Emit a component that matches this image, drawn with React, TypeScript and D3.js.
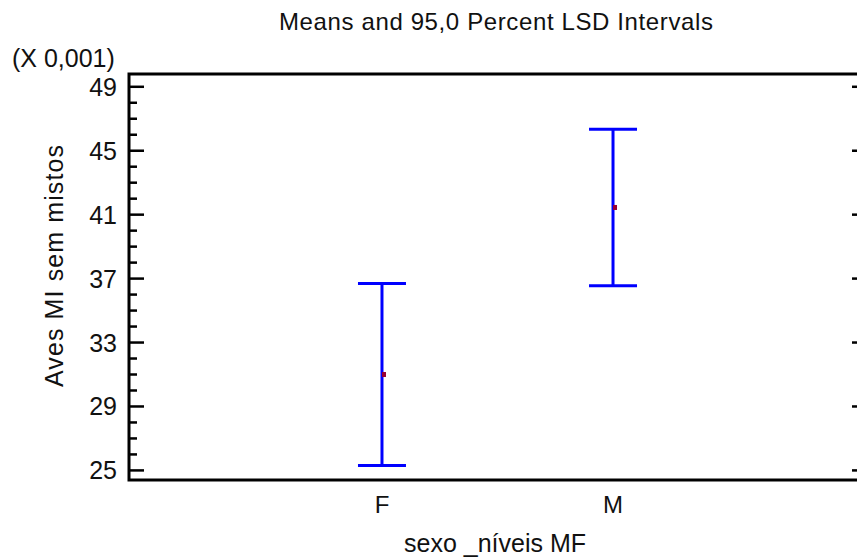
import React, { useRef, useEffect } from 'react';
import * as d3 from 'd3';

// values are in units of 0.001
const categories = ['F', 'M'];
const means = [31.0, 41.45];
const lower = [25.3, 36.55];
const upper = [36.7, 46.35];
const majorTicks = [25, 29, 33, 37, 41, 45, 49];

const W = 857;
const H = 559;

const App = () => {
  const svgRef = useRef<SVGSVGElement | null>(null);

  useEffect(() => {
    if (!svgRef.current) return;
    const svg = d3.select(svgRef.current);
    svg.selectAll('*').remove();

    const margin = { top: 74, right: -9, bottom: 79, left: 129 };
    const font = '"Liberation Sans", Arial, sans-serif';

    const x = d3.scalePoint<string>()
      .domain(categories)
      .range([margin.left, W - margin.right])
      .padding(1.095);

    const y = d3.scaleLinear()
      .domain([24.4, 49.8])
      .range([H - margin.bottom, margin.top]);

    const minorTicks = d3.range(25, 50, 1).filter(t => !majorTicks.includes(t));

    // title
    svg.append('text')
      .attr('x', 496)
      .attr('y', 30)
      .attr('text-anchor', 'middle')
      .attr('font-family', font)
      .attr('font-size', 24)
      .attr('textLength', 434)
      .attr('fill', '#111')
      .text('Means and 95,0 Percent LSD Intervals');

    // scale note
    svg.append('text')
      .attr('x', 12)
      .attr('y', 67)
      .attr('font-family', font)
      .attr('font-size', 25)
      .attr('fill', '#111')
      .text('(X 0,001)');

    // left axis ticks
    const left = svg.append('g');
    majorTicks.forEach(t => {
      left.append('line')
        .attr('x1', margin.left).attr('x2', margin.left + 15)
        .attr('y1', y(t)).attr('y2', y(t))
        .attr('stroke', '#000').attr('stroke-width', 2.5);
      left.append('text')
        .attr('x', 117)
        .attr('y', y(t))
        .attr('dy', '0.36em')
        .attr('text-anchor', 'end')
        .attr('font-family', font)
        .attr('font-size', 25)
        .attr('fill', '#111')
        .text(t);
    });
    minorTicks.forEach(t => {
      left.append('line')
        .attr('x1', margin.left).attr('x2', margin.left + 8)
        .attr('y1', y(t)).attr('y2', y(t))
        .attr('stroke', '#000').attr('stroke-width', 2.5);
    });

    // right axis ticks (major only)
    const rightX = W - margin.right;
    majorTicks.forEach(t => {
      svg.append('line')
        .attr('x1', rightX - 14).attr('x2', rightX)
        .attr('y1', y(t)).attr('y2', y(t))
        .attr('stroke', '#000').attr('stroke-width', 2.5);
    });

    // frame
    svg.append('rect')
      .attr('x', margin.left)
      .attr('y', margin.top)
      .attr('width', rightX - margin.left)
      .attr('height', H - margin.bottom - margin.top)
      .attr('fill', 'none')
      .attr('stroke', '#000')
      .attr('stroke-width', 3);

    // x labels
    categories.forEach(c => {
      svg.append('text')
        .attr('x', x(c)!)
        .attr('y', 513)
        .attr('text-anchor', 'middle')
        .attr('font-family', font)
        .attr('font-size', 24)
        .attr('fill', '#111')
        .text(c);
    });

    svg.append('text')
      .attr('x', 495)
      .attr('y', 552)
      .attr('text-anchor', 'middle')
      .attr('font-family', font)
      .attr('font-size', 25)
      .attr('fill', '#111')
      .text('sexo _níveis MF');

    svg.append('text')
      .attr('transform', `translate(63, 266) rotate(-90)`)
      .attr('text-anchor', 'middle')
      .attr('font-family', font)
      .attr('font-size', 25)
      .attr('textLength', 242)
      .attr('fill', '#111')
      .text('Aves MI sem mistos');

    // error bars
    const capHalf = 24;
    const bars = svg.append('g');
    categories.forEach((c, i) => {
      const cx = x(c)!;
      bars.append('line')
        .attr('x1', cx).attr('x2', cx)
        .attr('y1', y(lower[i])).attr('y2', y(upper[i]))
        .attr('stroke', '#0000ff').attr('stroke-width', 3);
      [lower[i], upper[i]].forEach(v => {
        bars.append('line')
          .attr('x1', cx - capHalf).attr('x2', cx + capHalf)
          .attr('y1', y(v)).attr('y2', y(v))
          .attr('stroke', '#0000ff').attr('stroke-width', 3);
      });
      bars.append('rect')
        .attr('x', cx)
        .attr('y', y(means[i]) - 2.5)
        .attr('width', 4)
        .attr('height', 5)
        .attr('fill', '#990033');
    });
  }, []);

  return (
    <svg
      ref={svgRef}
      width={W}
      height={H}
      style={{ position: 'absolute', left: 0, top: 0, background: '#fff', display: 'block' }}
    />
  );
};

export default App;
